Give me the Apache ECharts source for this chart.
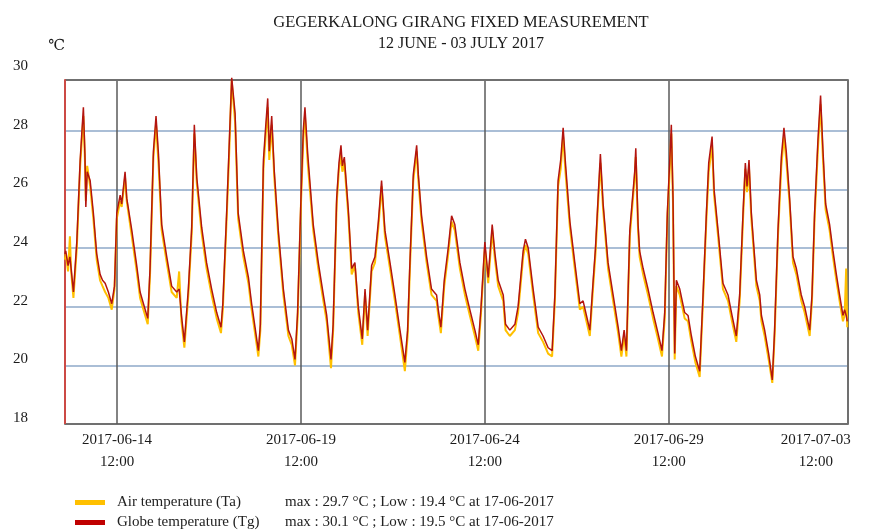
<!DOCTYPE html>
<html>
<head>
<meta charset="utf-8">
<title>Gegerkalong Girang fixed measurement</title>
<script src="https://cdn.jsdelivr.net/npm/echarts@6/dist/echarts.min.js"></script>
<style>
  html, body { margin: 0; padding: 0; background: #fff; }
  #chart { width: 871px; height: 531px; }
</style>
</head>
<body>
<div id="chart"></div>
<script>

// hours counted from 2017-06-13 00:00 (shared by both series)
var hours = [
  2, 2.5, 4, 5.2, 6, 7.5, 9.7, 11.9, 14, 15, 15.6, 16.5, 18.4, 20.5, 22.7,
  24.9, 26.5, 28.2, 30.3, 32.5, 34.3, 35.8, 38, 39, 41.2, 42.3, 45.6, 48.8,
  51, 53.2, 56, 57.5, 59.7, 61.4, 63, 65.1, 68.4, 71.6,
  74.9, 76.5, 78, 79.9, 82.5, 84.7, 86.4, 88, 91.2, 94.4, 97.7,
  101, 103.8, 105, 107.5, 109, 110.8, 113, 115, 118.4, 121.7,
  123.8, 126, 128.2, 129.5, 131.5, 132.8, 134.3, 135.3, 136.9, 138.6, 141.2, 144.5,
  147.8, 150, 152.1, 153.8, 156, 157.5, 158.6, 160.4, 164, 167.3,
  170.6, 172.8, 175.6, 177, 179.3, 180.8, 182.1, 183, 184.3, 186.9, 189.1, 191.2,
  193.4, 196, 197.8, 199.5, 202.1, 204.3, 206.5, 208.6, 210.8, 214.1,
  217.3, 220.6, 223.8, 225.6, 227.1, 229.3, 231.5, 232.6, 234.7, 238,
  241.2, 244.5, 245.6, 247.3, 249.5, 252.1, 254.3, 256.4, 259.7, 263,
  266.2, 269.5, 271.7, 273.4, 276, 278.2, 280.8, 282.6, 284.7, 288, 289.5,
  292.3, 295.6, 297.7, 301, 302.5, 304.3, 307.5, 310.8,
  314, 317.3, 319.9, 321.7, 323.8, 325.5, 327.1, 328.6, 331.5, 334.7,
  338, 340.1, 342.3, 344.5, 346.7, 348.2, 349.9, 351.4, 353.2, 356.4, 359.7,
  363, 365.1, 366.9, 368.4, 370.6, 373.8, 374.5, 376, 377, 379.3, 382.5,
  385.8, 389, 391.6, 393.4, 395.1, 396.6, 397.7, 398.8, 399.9, 401, 403.2, 406.4,
  408.6, 410.8, 413.4, 416.2, 418.4, 420.6, 422.1, 424.3, 425.6, 428.2, 431.4,
  434.7, 437.3, 440.1, 442.3, 444.5, 446, 447.1, 448.4, 449.9, 453.2, 455.4,
  456.5, 458.6, 461.2, 463.6, 465.1, 467.3, 469.5, 471.2, 472.7, 474.9, 477.1, 479.3,
  482.5, 484.7, 488, 489.5, 491.2, 493.4, 495.1, 496.6, 498.4, 501, 503.2, 505.4,
  507.5, 509.7, 510.8, 511.8, 512.5
];

// Globe temperature (Tg)
var tg = [
  23.8, 23.9, 23.4, 23.7, 23.3, 22.5, 24.2, 27.0, 28.8, 27.2, 25.4, 26.6, 26.3, 25.2, 23.8,
  23.1, 22.9, 22.8, 22.5, 22.1, 22.7, 25.2, 25.8, 25.5, 26.6, 25.7, 24.6, 23.4,
  22.5, 22.1, 21.6, 23.3, 27.3, 28.5, 27.2, 24.8, 23.7, 22.7,
  22.5, 22.6, 21.7, 20.8, 22.6, 24.7, 28.2, 26.4, 24.7, 23.5, 22.6,
  21.8, 21.3, 22.1, 25.2, 27.3, 29.8, 28.6, 25.2, 23.9, 23.0,
  22.1, 21.3, 20.5, 21.4, 27.0, 28.0, 29.1, 27.3, 28.5, 26.6, 24.6, 22.6,
  21.2, 20.9, 20.2, 21.8, 25.7, 28.0, 28.8, 27.2, 24.8, 23.5,
  22.4, 21.7, 20.2, 21.4, 25.7, 26.9, 27.5, 26.8, 27.1, 25.3, 23.3, 23.5,
  22.0, 20.9, 22.6, 21.2, 23.4, 23.7, 24.9, 26.3, 24.6, 23.5,
  22.4, 21.2, 20.1, 21.2, 23.5, 26.5, 27.5, 26.5, 25.1, 23.7,
  22.6, 22.4, 21.9, 21.3, 22.9, 24.0, 25.1, 24.8, 23.5, 22.6,
  21.9, 21.2, 20.7, 21.9, 24.2, 23.0, 24.8, 23.8, 22.9, 22.4, 21.4,
  21.2, 21.4, 22.0, 23.9, 24.3, 24.0, 22.6, 21.3,
  21.0, 20.6, 20.5, 22.4, 26.3, 27.0, 28.1, 26.9, 24.9, 23.5,
  22.1, 22.2, 21.7, 21.2, 22.9, 24.0, 25.7, 27.2, 25.5, 23.5, 22.4,
  21.3, 20.5, 21.2, 20.5, 24.6, 26.6, 27.4, 24.8, 23.9, 23.3, 22.6,
  21.8, 21.1, 20.5, 21.8, 25.2, 26.9, 28.2, 25.7, 20.4, 22.9, 22.6, 21.8,
  21.7, 21.0, 20.3, 19.8, 22.4, 25.2, 26.9, 27.8, 26.0, 24.6, 22.8,
  22.4, 21.7, 21.0, 22.4, 25.2, 26.9, 26.1, 27.0, 25.2, 22.9, 22.4,
  21.7, 21.2, 20.4, 19.5, 21.2, 24.6, 27.1, 28.1, 27.3, 25.7, 23.7, 23.3,
  22.4, 22.0, 21.2, 22.4, 25.2, 27.7, 29.2, 27.4, 25.5, 24.8, 23.9, 23.1,
  22.4, 21.7, 21.9, 21.7, 21.5
];

// Air temperature (Ta)
var ta = [
  23.6, 23.8, 23.2, 24.4, 23.2, 22.3, 24.0, 26.8, 28.5, 27.0, 25.6, 26.8, 26.1, 25.0, 23.6,
  22.9, 22.7, 22.5, 22.3, 21.9, 22.6, 25.0, 25.6, 25.4, 26.4, 25.6, 24.4, 23.2,
  22.3, 21.9, 21.4, 23.1, 27.1, 28.2, 26.9, 24.6, 23.5, 22.5,
  22.3, 23.2, 21.5, 20.6, 22.4, 24.5, 27.9, 26.2, 24.5, 23.3, 22.4,
  21.6, 21.1, 21.9, 25.0, 27.0, 29.7, 28.3, 25.0, 23.7, 22.8,
  21.9, 21.1, 20.3, 21.2, 26.7, 27.7, 28.8, 27.0, 28.2, 26.4, 24.4, 22.4,
  21.0, 20.7, 20.0, 21.6, 25.5, 27.7, 28.5, 26.9, 24.6, 23.3,
  22.2, 21.5, 19.9, 21.2, 25.5, 26.7, 27.2, 26.6, 26.9, 25.1, 23.1, 23.4,
  21.8, 20.7, 22.4, 21.0, 23.2, 23.5, 24.7, 26.1, 24.4, 23.3,
  22.2, 21.0, 19.8, 21.0, 23.3, 26.3, 27.3, 26.3, 24.9, 23.5,
  22.4, 22.2, 21.7, 21.1, 22.7, 23.8, 24.9, 24.6, 23.3, 22.4,
  21.7, 21.0, 20.5, 21.7, 24.0, 22.8, 24.6, 23.6, 22.7, 22.2, 21.2,
  21.0, 21.2, 21.8, 23.7, 24.1, 23.8, 22.4, 21.1,
  20.8, 20.4, 20.3, 22.2, 26.1, 26.7, 27.8, 26.6, 24.7, 23.3,
  21.9, 22.0, 21.5, 21.0, 22.7, 23.8, 25.5, 26.9, 25.3, 23.3, 22.2,
  21.1, 20.3, 21.0, 20.3, 24.4, 26.4, 27.1, 24.6, 23.7, 23.1, 22.4,
  21.6, 20.9, 20.3, 21.6, 25.0, 26.6, 27.9, 25.5, 20.2, 22.7, 22.4, 21.6,
  21.5, 20.8, 20.1, 19.6, 22.2, 25.0, 26.6, 27.5, 25.8, 24.4, 22.6,
  22.2, 21.5, 20.8, 22.2, 25.0, 26.7, 25.9, 26.7, 25.0, 22.7, 22.2,
  21.5, 21.0, 20.2, 19.4, 21.0, 24.4, 26.8, 27.8, 27.0, 25.5, 23.5, 23.1,
  22.2, 21.8, 21.0, 22.2, 25.0, 27.4, 28.9, 27.1, 25.3, 24.6, 23.7, 22.9,
  22.2, 21.5, 21.7, 23.3, 21.3
];

// axis / legend texts
var labelHours = [36, 156, 276, 396, 492];
var tickLabels = ['2017-06-14\n12:00', '2017-06-19\n12:00', '2017-06-24\n12:00', '2017-06-29\n12:00', '2017-07-03\n12:00'];
var lineHours = [36, 156, 276, 396];
var gridValues = [20, 22, 24, 26, 28];
var seriesNames = ['Air temperature (Ta)', 'Globe temperature (Tg)'];
var seriesStats = [
  'max : 29.7 \u00b0C ; Low : 19.4 \u00b0C at 17-06-2017',
  'max : 30.1 \u00b0C ; Low : 19.5 \u00b0C at 17-06-2017'
];

var xMin = 2, xMax = 513, yTop = 29.75;
var serif = '"Liberation Serif", "DejaVu Serif", serif';

function pairs(vals) {
  var out = [];
  for (var i = 0; i < hours.length; i++) out.push([hours[i], vals[i]]);
  return out;
}

// frame + grid lines, drawn under the data
var frameLines = [];
gridValues.forEach(function (v) {
  frameLines.push({ yAxis: v, lineStyle: { color: '#8ea8c9', width: 1.5, type: 'solid' } });
});
lineHours.forEach(function (h) {
  frameLines.push([{ coord: [h, 18] }, { coord: [h, yTop], lineStyle: { color: '#5a5a5a', width: 1.5, type: 'solid' } }]);
});
frameLines.push([{ coord: [xMin, yTop] }, { coord: [xMax, yTop], lineStyle: { color: '#707070', width: 2, type: 'solid' } }]);
frameLines.push([{ coord: [xMax, 18] }, { coord: [xMax, yTop], lineStyle: { color: '#707070', width: 2, type: 'solid' } }]);
frameLines.push([{ coord: [xMin, 18] }, { coord: [xMin, yTop], lineStyle: { color: '#cc4a45', width: 2, type: 'solid' } }]);

// one legend box per series, so the rows stack like the original
function legendRow(i, top) {
  return {
    data: [{ name: seriesNames[i], icon: 'rect' }],
    left: 70, top: top,
    itemWidth: 30, itemHeight: 5,
    selectedMode: false,
    formatter: function (name) {
      return '{a|' + name + '}{b|' + seriesStats[i] + '}';
    },
    textStyle: {
      fontFamily: serif, fontSize: 15, color: '#222',
      rich: {
        a: { fontFamily: serif, fontSize: 15, color: '#222', width: 168, padding: [0, 0, 0, 7] },
        b: { fontFamily: serif, fontSize: 15, color: '#222' }
      }
    }
  };
}

var chart = echarts.init(document.getElementById('chart'));
chart.setOption({
  animation: false,
  backgroundColor: '#fff',
  title: [
    {
      text: 'GEGERKALONG GIRANG FIXED MEASUREMENT',
      left: 456, top: 9, textAlign: 'center',
      textStyle: { fontFamily: serif, fontSize: 16.5, fontWeight: 'normal', color: '#1a1a1a' }
    },
    {
      text: '12 JUNE - 03 JULY 2017',
      left: 456, top: 31, textAlign: 'center',
      textStyle: { fontFamily: serif, fontSize: 16, fontWeight: 'normal', color: '#1a1a1a' }
    }
  ],
  grid: { left: 65, right: 23, top: 72, bottom: 107 },
  legend: [legendRow(0, 490), legendRow(1, 510)],
  xAxis: {
    type: 'value',
    min: xMin, max: xMax,
    splitLine: { show: false },
    axisTick: { show: false },
    axisLine: { show: true, lineStyle: { color: '#707070', width: 2 } },
    axisLabel: {
      customValues: labelHours,
      formatter: function (v) { return tickLabels[labelHours.indexOf(v)]; },
      fontFamily: serif, fontSize: 15, color: '#1a1a1a', lineHeight: 22, margin: 5
    }
  },
  yAxis: {
    type: 'value',
    min: 18, max: 30, interval: 2,
    name: '\u2103',
    nameGap: 18,
    nameTextStyle: { fontFamily: serif, fontSize: 15, color: '#1a1a1a', align: 'right' },
    splitLine: { show: false },
    axisTick: { show: false },
    axisLine: { show: false },
    axisLabel: { fontFamily: serif, fontSize: 15, color: '#1a1a1a', margin: 37, verticalAlign: 'bottom', lineHeight: 12 }
  },
  series: [
    {
      name: 'frame',
      type: 'line',
      data: [[xMin, 18]],
      symbol: 'none',
      silent: true,
      lineStyle: { opacity: 0 },
      markLine: { silent: true, symbol: 'none', z: 1, label: { show: false }, data: frameLines }
    },
    {
      name: seriesNames[0],
      type: 'line',
      data: pairs(ta),
      symbol: 'none',
      z: 2,
      itemStyle: { color: '#ffc000' },
      lineStyle: { color: '#ffc000', width: 2 }
    },
    {
      name: seriesNames[1],
      type: 'line',
      data: pairs(tg),
      symbol: 'none',
      z: 3,
      itemStyle: { color: '#c00000' },
      lineStyle: { color: '#b3140f', width: 1.5 }
    }
  ]
});

</script>
</body>
</html>
